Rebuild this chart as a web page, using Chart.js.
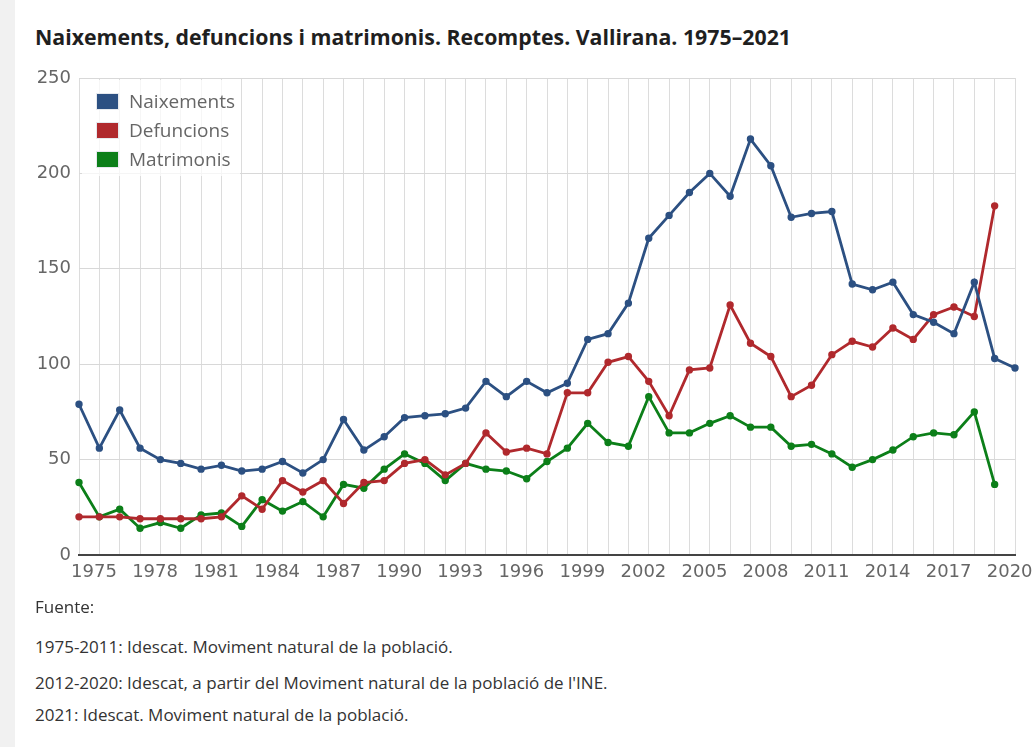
<!DOCTYPE html>
<html>
<head>
<meta charset="utf-8">
<script src="https://cdn.jsdelivr.net/npm/chart.js@4"></script>
<style>
  body { margin: 0; width: 1034px; height: 747px; background: #fff; position: relative; overflow: hidden; font-family: "Open Sans", sans-serif; }
  #strip { position: absolute; left: 0; top: 0; width: 15px; height: 747px; background: #f1f1f1; }
  #titol { position: absolute; left: 35px; top: 23px; font-size: 21.3px; font-weight: bold; color: #1f1f1f; line-height: 28px; white-space: nowrap; }
  #wrap { position: absolute; left: 0; top: 55px; width: 1034px; height: 545px; }
  #llegenda { position: absolute; left: 82px; top: 80px; width: 158px; height: 96px; background: rgba(255,255,255,0.75); }
  .item { position: absolute; left: 14px; height: 22px; display: flex; align-items: center; font-size: 19px; color: #666; }
  .item span.sw { width: 21px; height: 15px; margin-right: 10px; border: 1.5px solid #e6e9ee; }
  .font { position: absolute; left: 35px; font-size: 17px; color: #333; white-space: nowrap; }
</style>
</head>
<body>
<div id="strip"></div>
<div id="titol">Naixements, defuncions i matrimonis. Recomptes. Vallirana. 1975–2021</div>
<div id="wrap"><canvas id="grafic"></canvas></div>
<div id="llegenda"></div>
<div class="font" style="top:595px">Fuente:</div>
<div class="font" style="top:635px">1975-2011: Idescat. Moviment natural de la població.</div>
<div class="font" style="top:671px">2012-2020: Idescat, a partir del Moviment natural de la població de l'INE.</div>
<div class="font" style="top:703px">2021: Idescat. Moviment natural de la població.</div>

<script>
// dades
const anys = [1975, 1976, 1977, 1978, 1979, 1980, 1981, 1982, 1983, 1984,
  1985, 1986, 1987, 1988, 1989, 1990, 1991, 1992, 1993, 1994,
  1995, 1996, 1997, 1998, 1999, 2000, 2001, 2002, 2003, 2004,
  2005, 2006, 2007, 2008, 2009, 2010, 2011, 2012, 2013, 2014,
  2015, 2016, 2017, 2018, 2019, 2020, 2021];

const naixements = [79, 56, 76, 56, 50, 48, 45, 47, 44, 45,
  49, 43, 50, 71, 55, 62, 72, 73, 74, 77,
  91, 83, 91, 85, 90, 113, 116, 132, 166, 178,
  190, 200, 188, 218, 204, 177, 179, 180, 142, 139,
  143, 126, 122, 116, 143, 103, 98];

const defuncions = [20, 20, 20, 19, 19, 19, 19, 20, 31, 24,
  39, 33, 39, 27, 38, 39, 48, 50, 42, 48,
  64, 54, 56, 53, 85, 85, 101, 104, 91, 73,
  97, 98, 131, 111, 104, 83, 89, 105, 112, 109,
  119, 113, 126, 130, 125, 183, null];

const matrimonis = [38, 20, 24, 14, 17, 14, 21, 22, 15, 29,
  23, 28, 20, 37, 35, 45, 53, 48, 39, 48,
  45, 44, 40, 49, 56, 69, 59, 57, 83, 64,
  64, 69, 73, 67, 67, 57, 58, 53, 46, 50,
  55, 62, 64, 63, 75, 37, null];

const nomsSeries = ['Naixements', 'Defuncions', 'Matrimonis'];
const colors = ['#2c5082', '#b0292d', '#0c7f19'];
const ticksY = [0, 50, 100, 150, 200, 250];

const series = [naixements, defuncions, matrimonis];

const datasets = series.map((d, i) => ({
  label: nomsSeries[i],
  data: d,
  borderColor: colors[i],
  backgroundColor: colors[i],
  borderWidth: 2.8,
  pointRadius: 2.3,
  pointHoverRadius: 3,
  tension: 0
}));

const ctx = document.getElementById('grafic').getContext('2d');
const myChart = new Chart(ctx, {
  type: 'line',
  data: { labels: anys, datasets: datasets },
  options: {
    responsive: true,
    maintainAspectRatio: false,
    animation: false,
    layout: { padding: { top: 23, right: 19, left: 0, bottom: 0 } },
    plugins: { legend: { display: false }, tooltip: { enabled: false } },
    scales: {
      x: {
        grid: { color: '#dcdcdc', lineWidth: 1, drawTicks: false },
        border: { color: '#444', width: 2 },
        ticks: {
          autoSkip: false,
          maxRotation: 0,
          minRotation: 0,
          padding: 7,
          labelOffset: 15,
          color: '#666',
          font: { family: 'DejaVu Sans', size: 18 },
          callback: (v, i) => (i % 3 === 0 ? anys[i] : '')
        },
        afterFit: s => { s.height = 45; }
      },
      y: {
        min: 0,
        max: 250,
        afterBuildTicks: s => { s.ticks = ticksY.map(v => ({ value: v })); },
        grid: { color: '#d8d8d8', lineWidth: 1, drawTicks: false },
        border: { display: false },
        ticks: {
          padding: 8,
          color: '#666',
          font: { family: 'DejaVu Sans', size: 18 }
        },
        afterFit: s => { s.width = 79; }
      }
    }
  }
});

// llegenda dins l'area del grafic
const lleg = document.getElementById('llegenda');
nomsSeries.forEach((nom, i) => {
  const el = document.createElement('div');
  el.className = 'item';
  el.style.top = (10 + i * 29) + 'px';
  el.innerHTML = '<span class="sw" style="background:' + colors[i] + '"></span>' + nom;
  lleg.appendChild(el);
});
</script>
</body>
</html>
